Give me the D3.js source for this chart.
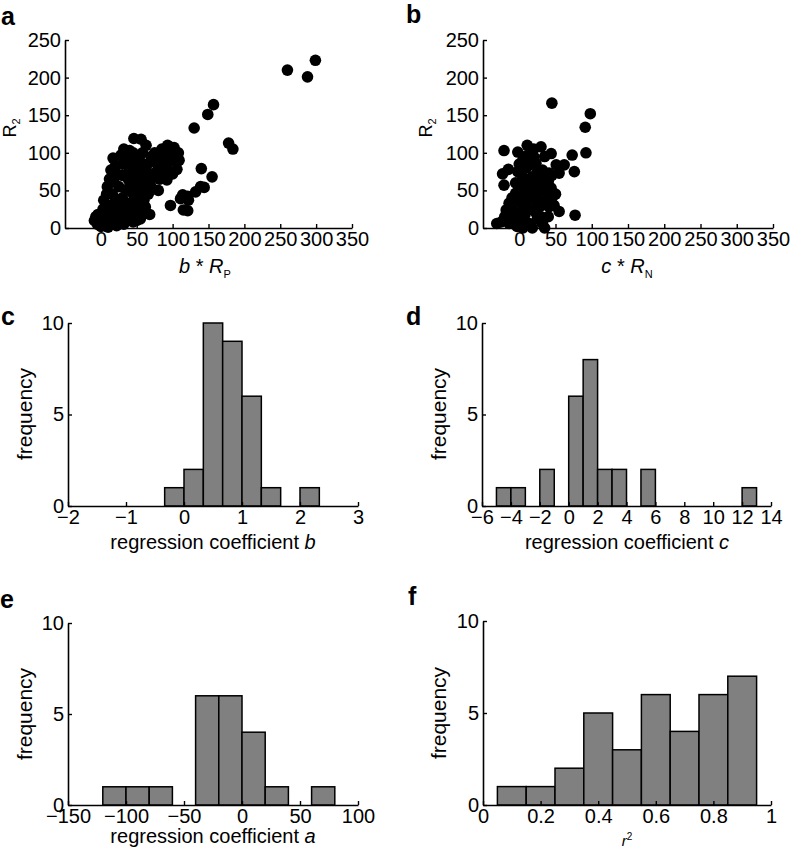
<!DOCTYPE html>
<html><head><meta charset="utf-8">
<script src="https://cdn.jsdelivr.net/npm/d3@7"></script>
<style>
body{margin:0;background:#fff;}
svg{display:block;font-family:"Liberation Sans",Arial,Helvetica,sans-serif;}
</style></head><body>
<svg id="c" width="792" height="853"></svg>
<script>
// ---------- DATA ----------
// panel a: b*R_P (x) vs R_2 (y)
const aX = [46,56,32,40,17,28,14,20,9,12,4,8,-7,-9,-5,0,10,22,32,45,55,68,62,60,66,70,80,92,100,106,109,108,102,93,85,79,70,63,58,50,42,30,22,18,25,16,12,3,-4,5,15,25,35,45,52,40,30,45,35,55,48,38,30,48,58,62,52,40,72,80,88,95,85,75,90,82,25,18,38,60,50,28,12,95,
  65,75,88,98,100,92,84,70,55,45,35,60,50,40,20,10,0,30,55,48,
  97,111,115,121,122,114,121,132,139,144,155,140,130,149,157,178,184,260,288,299];
const aY = [119,118,105,103,93,97,77,82,55,65,37,45,15,10,5,2,1,3,5,8,12,18,28,37,45,55,50,64,72,78,90,100,107,110,105,99,95,110,100,95,88,85,72,62,55,45,30,25,18,12,15,20,15,22,30,33,40,45,50,50,60,65,70,72,65,75,82,78,72,80,85,95,92,88,75,65,30,22,27,20,10,10,8,108,
  85,100,100,100,90,80,72,65,88,100,92,55,40,55,35,20,10,25,25,15,
  30,39,24,23,37,44,42,48,55,54,68,79,133,151,164,113,105,210,201,223];
// panel b: c*R_N (x) vs R_2 (y)
const bX = [45,98,91,92,73,76,77,55,44,-21,-15,-23,-21,-31,-25,-2,11,30,44,5,23,51,62,55,41,5,14,-5,-14,-18,5,23,37,41,23,5,-14,14,32,5,-5,18,32,18,32,-8,-10,0,10,0,-2,10,20,35,30,25,15,25,40,45,8,-3,18,28,48,10,0,-20,35,40,20,12,-10,
  0,10,20,5,25,15,-5,35,45,50,30,10,-15,0];
const bY = [166,152,134,100,97,75,17,22,53,103,78,72,57,6,8,101,110,108,99,90,86,84,84,73,73,68,55,46,33,24,28,37,37,28,20,11,6,6,6,0,20,46,55,68,77,10,25,35,40,55,75,80,95,95,65,45,25,12,15,40,18,2,0,28,30,96,85,15,0,62,105,63,40,
  60,50,58,45,75,85,60,50,70,45,15,30,15,20];
// panel c: regression coefficient b (bin centres, counts)
const cCenters = [-1/6, 1/6, 1/2, 5/6, 7/6, 3/2, 13/6];
const cCounts  = [1, 2, 10, 9, 6, 1, 1];
const cWidth = 1/3;
// panel d: regression coefficient c
const dCenters = [-4.5, -3.5, -1.5, 0.5, 1.5, 2.5, 3.5, 5.5, 12.5];
const dCounts  = [1, 1, 2, 6, 8, 2, 2, 2, 1];
const dWidth = 1;
// panel e: regression coefficient a
const eCenters = [-110, -90, -70, -30, -10, 10, 30, 70];
const eCounts  = [1, 1, 1, 6, 6, 4, 1, 1];
const eWidth = 20;
// panel f: r^2
const fCenters = [0.1, 0.2, 0.3, 0.4, 0.5, 0.6, 0.7, 0.8, 0.9];
const fCounts  = [1, 1, 2, 5, 3, 6, 4, 6, 7];
const fWidth = 0.1;
// tick values
const scatterXTicks = [0,50,100,150,200,250,300,350];
const scatterYTicks = [0,50,100,150,200,250];
const histYTicks = [0,5,10];
const cXTicks = [-2,-1,0,1,2,3];
const dXTicks = [-6,-4,-2,0,2,4,6,8,10,12,14];
const eXTicks = [-150,-100,-50,0,50,100];
const fXTicks = [0,0.2,0.4,0.6,0.8,1];

// ---------- DRAW ----------
const svg = d3.select("#c");

function axes(x, y, xTicks, yTicks, xFmt){
  const y0 = y.range()[0], x0 = x.range()[0];
  const gx = svg.append("g").attr("transform", `translate(0,${y0})`)
    .call(d3.axisBottom(x).tickValues(xTicks).tickSizeInner(-4).tickSizeOuter(0).tickPadding(4)
      .tickFormat(xFmt || (d => d3.format("")(d))));
  const gy = svg.append("g").attr("transform", `translate(${x0},0)`)
    .call(d3.axisLeft(y).tickValues(yTicks).tickSizeInner(-4).tickSizeOuter(0).tickPadding(4));
  [gx, gy].forEach(g => {
    g.attr("font-family", null).attr("font-size", null);
    g.select(".domain").attr("stroke", "#000").attr("stroke-width", 1.6);
    g.selectAll(".tick line").attr("stroke", "#000").attr("stroke-width", 1.4);
    g.selectAll(".tick text").attr("font-size", 20).attr("fill", "#000");
  });
  gx.selectAll(".tick text").attr("dy", "0.72em");
}

function letter(t, x, y){
  svg.append("text").attr("x", x).attr("y", y).attr("font-size", 25).attr("font-weight", "bold").text(t);
}

function yLabelR2(cx, cy){
  const t = svg.append("text").attr("transform", `translate(${cx},${cy}) rotate(-90)`)
    .attr("text-anchor", "middle").attr("font-size", 18);
  t.append("tspan").text("R");
  t.append("tspan").attr("font-size", 11).attr("dy", 4).text("2");
}
function yLabelFreq(cx, cy){
  svg.append("text").attr("transform", `translate(${cx},${cy}) rotate(-90)`)
    .attr("text-anchor", "middle").attr("font-size", 21).text("frequency");
}

function scatter(xs, ys, x, y){
  svg.append("g").selectAll("circle").data(xs.map((d,i)=>[d, ys[i]])).join("circle")
    .attr("cx", d => x(d[0])).attr("cy", d => y(d[1])).attr("r", 5.8).attr("fill", "#000");
}

function hist(centers, counts, w, x, y){
  svg.append("g").selectAll("rect").data(centers.map((c,i)=>[c, counts[i]])).join("rect")
    .attr("x", d => x(d[0]-w/2)).attr("width", d => x(d[0]+w/2) - x(d[0]-w/2))
    .attr("y", d => y(d[1])).attr("height", d => y(0) - y(d[1]))
    .attr("fill", "#808080").attr("stroke", "#000").attr("stroke-width", 1.5);
}

// panel a
{
  const x = d3.scaleLinear().domain([-50,350]).range([65,352]);
  const y = d3.scaleLinear().domain([0,250]).range([228,40]);
  axes(x, y, scatterXTicks, scatterYTicks);
  scatter(aX, aY, x, y);
  letter("a", 1, 25);
  yLabelR2(16, 128);
  const t = svg.append("text").attr("x", 205).attr("y", 273).attr("text-anchor", "middle").attr("font-size", 20);
  t.append("tspan").attr("font-style", "italic").text("b");
  t.append("tspan").text(" * ");
  t.append("tspan").attr("font-style", "italic").text("R");
  t.append("tspan").attr("font-size", 11).attr("dy", 5).text("P");
}
// panel b
{
  const x = d3.scaleLinear().domain([-50,350]).range([483,773]);
  const y = d3.scaleLinear().domain([0,250]).range([228,40]);
  axes(x, y, scatterXTicks, scatterYTicks);
  scatter(bX, bY, x, y);
  letter("b", 406, 23);
  yLabelR2(432, 128);
  const t = svg.append("text").attr("x", 627).attr("y", 273).attr("text-anchor", "middle").attr("font-size", 20);
  t.append("tspan").attr("font-style", "italic").text("c");
  t.append("tspan").text(" * ");
  t.append("tspan").attr("font-style", "italic").text("R");
  t.append("tspan").attr("font-size", 11).attr("dy", 5).text("N");
}
// panel c
{
  const x = d3.scaleLinear().domain([-2,3]).range([68,358]);
  const y = d3.scaleLinear().domain([0,10]).range([506,323]);
  hist(cCenters, cCounts, cWidth, x, y);
  axes(x, y, cXTicks, histYTicks);
  letter("c", 1, 325);
  yLabelFreq(32, 414);
  const t = svg.append("text").attr("x", 213).attr("y", 549).attr("text-anchor", "middle").attr("font-size", 20);
  t.append("tspan").text("regression coefficient ");
  t.append("tspan").attr("font-style", "italic").text("b");
}
// panel d
{
  const x = d3.scaleLinear().domain([-6,14]).range([482,771]);
  const y = d3.scaleLinear().domain([0,10]).range([506,323]);
  hist(dCenters, dCounts, dWidth, x, y);
  axes(x, y, dXTicks, histYTicks);
  letter("d", 406, 325);
  yLabelFreq(446, 414);
  const t = svg.append("text").attr("x", 627).attr("y", 549).attr("text-anchor", "middle").attr("font-size", 20);
  t.append("tspan").text("regression coefficient ");
  t.append("tspan").attr("font-style", "italic").text("c");
}
// panel e
{
  const x = d3.scaleLinear().domain([-150,100]).range([68,358]);
  const y = d3.scaleLinear().domain([0,10]).range([805,623]);
  hist(eCenters, eCounts, eWidth, x, y);
  axes(x, y, eXTicks, histYTicks);
  letter("e", 0, 608);
  yLabelFreq(32, 714);
  const t = svg.append("text").attr("x", 213).attr("y", 843).attr("text-anchor", "middle").attr("font-size", 20);
  t.append("tspan").text("regression coefficient ");
  t.append("tspan").attr("font-style", "italic").text("a");
}
// panel f
{
  const x = d3.scaleLinear().domain([0,1]).range([483,771]);
  const y = d3.scaleLinear().domain([0,10]).range([805,621]);
  hist(fCenters, fCounts, fWidth, x, y);
  axes(x, y, fXTicks, histYTicks, d => (d === 0 || d === 1) ? String(d) : d.toFixed(1));
  letter("f", 408, 605);
  yLabelFreq(446, 713);
  const t = svg.append("text").attr("x", 627).attr("y", 846).attr("text-anchor", "middle").attr("font-size", 15);
  t.append("tspan").attr("font-style", "italic").text("r");
  t.append("tspan").attr("font-size", 10).attr("dy", -6).text("2");
}
</script>
</body></html>
